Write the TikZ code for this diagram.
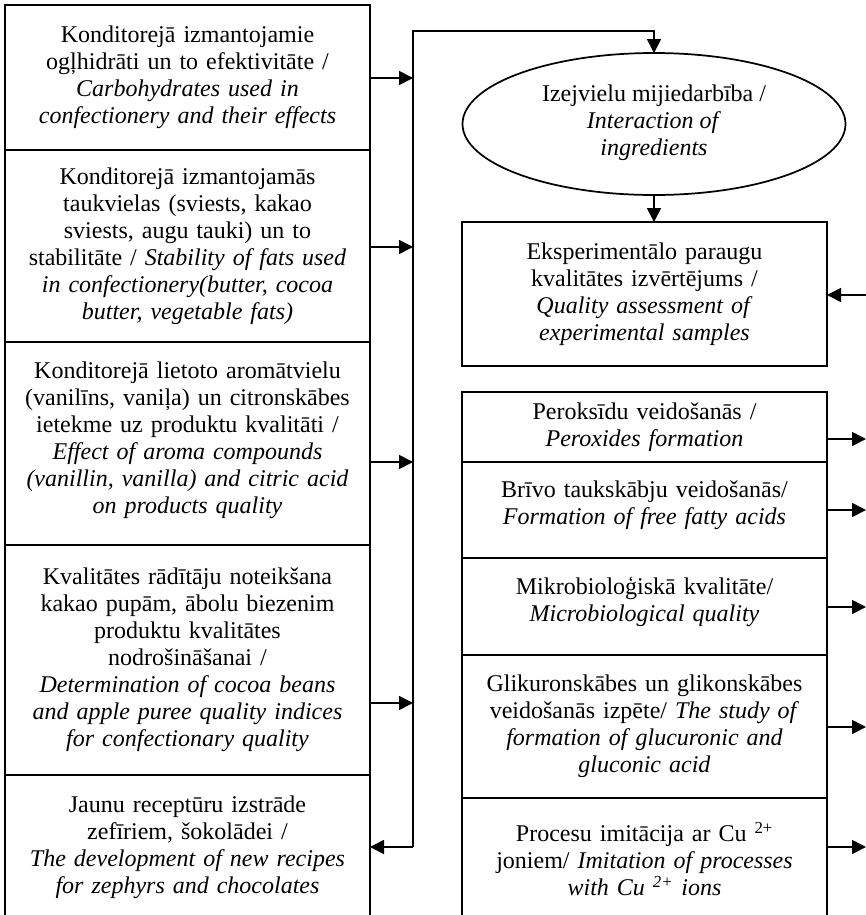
\documentclass[tikz,border=0pt]{standalone}
\usepackage{fontspec}
\setmainfont{Liberation Serif}
\usetikzlibrary{arrows.meta,shapes.geometric,positioning}

\tikzset{
  cell/.style={draw, line width=1.3pt, minimum width=273.75pt, text width=266pt,
    align=center, inner sep=0pt, outer sep=0pt, font=\fontsize{18}{20.25}\selectfont},
  oval/.style={draw, ellipse, line width=1.3pt, minimum width=287.25pt, minimum height=106.5pt,
    align=center, inner sep=0pt, outer sep=0pt, font=\fontsize{18}{20.25}\selectfont},
  arr/.style={line width=1.3pt, -{Triangle[length=10.5pt,width=10.5pt]}},
  bus/.style={line width=1.3pt}
}

\begin{document}
\begin{tikzpicture}[x=0.75pt,y=0.75pt,yscale=-1,xscale=1]
\useasboundingbox (0,0) rectangle (866,915);

%Shape: Rectangle (left column)
\node [cell, anchor=north west, minimum height=108.75pt] (L1) at (5,5)
  {Konditorejā izmantojamie\\ ogļhidrāti un to efektivitāte /\\
   \textit{Carbohydrates used in}\\ \textit{confectionery and their effects}};
\node [cell, below=0pt of L1, minimum height=144pt] (L2)
  {Konditorejā izmantojamās\\ taukvielas (sviests, kakao\\ sviests, augu tauki) un to\\
   stabilitāte / \textit{Stability of fats used}\\ \textit{in confectionery(butter, cocoa}\\
   \textit{butter, vegetable fats)}};
\node [cell, below=0pt of L2, minimum height=152.25pt] (L3)
  {Konditorejā lietoto aromātvielu\\ (vanilīns, vaniļa) un citronskābes\\
   ietekme uz produktu kvalitāti /\\ \textit{Effect of aroma compounds}\\
   \textit{(vanillin, vanilla) and citric acid}\\ \textit{on products quality}\\[-12pt]\mbox{}};
\node [cell, below=0pt of L3, minimum height=172.5pt] (L4)
  {Kvalitātes rādītāju noteikšana\\ kakao pupām, ābolu biezenim\\ produktu kvalitātes\\
   nodrošināšanai /\\ \textit{Determination of cocoa beans}\\
   \textit{and apple puree quality indices}\\ \textit{for confectionary quality}};
\node [cell, below=0pt of L4, minimum height=108.75pt] (L5)
  {Jaunu receptūru izstrāde\\ zefīriem, šokolādei /\\
   \textit{The development of new recipes}\\ \textit{for zephyrs and chocolates}};

%Shape: Ellipse
\node [oval] (ell) at (654,124)
  {\mbox{}\\[-10pt]Izejvielu mijiedarbība /\\ \textit{Interaction of}\\ \textit{ingredients}};

%Shape: Rectangle (right column)
\node [cell, anchor=north west, minimum height=108pt] (E) at (462,222)
  {Eksperimentālo paraugu\\ kvalitātes izvērtējums /\\
   \textit{Quality assessment of}\\ \textit{experimental samples}};
\node [cell, anchor=north west, minimum height=52.5pt] (R1) at (462,392)
  {Peroksīdu veidošanās /\\ \textit{Peroxides formation}};
\node [cell, below=0pt of R1, minimum height=72pt] (R2)
  {Brīvo taukskābju veidošanās/\\ \textit{Formation of free fatty acids}\\[-9pt]\mbox{}};
\node [cell, below=0pt of R2, minimum height=72.75pt] (R3)
  {Mikrobioloģiskā kvalitāte/\\ \textit{Microbiological quality}\\[-9pt]\mbox{}};
\node [cell, below=0pt of R3, minimum height=107.25pt] (R4)
  {Glikuronskābes un glikonskābes\\ veidošanās izpēte/ \textit{The study of}\\
   \textit{formation of glucuronic and}\\ \textit{gluconic acid}};
\node [cell, below=0pt of R4, minimum height=91.5pt] (R5)
  {Procesu imitācija ar Cu \textsuperscript{2+}\\ joniem/ \textit{Imitation of processes}\\
   \textit{with Cu \textsuperscript{2+} ions}};

% points on the collecting line
\coordinate (bt) at (413,31);
\coordinate (b1) at (413,78);
\coordinate (b2) at (413,247);
\coordinate (b3) at (413,462);
\coordinate (b4) at (413,703);
\coordinate (b5) at (413,847);
% free ends on the right edge
\coordinate (rin) at (866,295);
\coordinate (o1) at (866,439);
\coordinate (o2) at (866,510);
\coordinate (o3) at (866,607);
\coordinate (o4) at (866,727);
\coordinate (o5) at (866,847);

%Straight Lines
\draw [arr] (b5) -- (bt) -| (ell.north);
\draw [arr] (L1.east |- b1) -- (b1);
\draw [arr] (L2.east |- b2) -- (b2);
\draw [arr] (L3.east |- b3) -- (b3);
\draw [arr] (L4.east |- b4) -- (b4);
\draw [arr] (b5) -- (L5.east |- b5);
\draw [arr] (ell.south) -- (ell.south |- E.north);
\draw [arr] (rin) -- (E.east |- rin);
\draw [arr] (R1.east |- o1) -- (o1);
\draw [arr] (R2.east |- o2) -- (o2);
\draw [arr] (R3.east |- o3) -- (o3);
\draw [arr] (R4.east |- o4) -- (o4);
\draw [arr] (R5.east |- o5) -- (o5);

\end{tikzpicture}
\end{document}
